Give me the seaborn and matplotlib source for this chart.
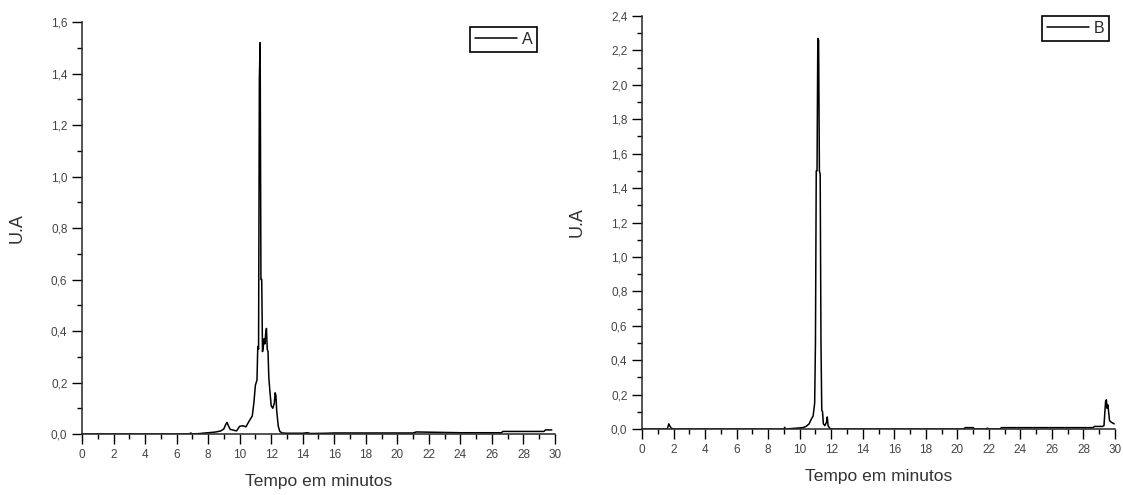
import pandas as pd
import seaborn as sns
import matplotlib
matplotlib.use('Agg')
import matplotlib.pyplot as plt
from matplotlib.ticker import MultipleLocator, FuncFormatter

# chromatogram A
tempo_a = [0, 6.8, 6.9, 7.0, 7.5, 7.8, 8.2, 8.5, 8.8, 9.0, 9.1, 9.2, 9.3, 9.4, 9.6, 9.8,
           10.0, 10.2, 10.4, 10.6, 10.8, 10.9, 11.0, 11.1, 11.15, 11.2, 11.25, 11.3, 11.35,
           11.4, 11.45, 11.5, 11.55, 11.6, 11.65, 11.7, 11.75, 11.8, 11.85, 11.9, 12.0,
           12.1, 12.2, 12.25, 12.3, 12.35, 12.45, 12.55, 12.7, 13.0, 14.0, 14.3, 14.5,
           15.5, 16.0, 18.0, 21.0, 21.2, 24.0, 26.6, 26.7, 29.3, 29.4, 29.8]
ua_a = [0, 0, 0.004, 0, 0.002, 0.004, 0.006, 0.008, 0.012, 0.02, 0.035, 0.045, 0.03,
        0.018, 0.015, 0.012, 0.03, 0.032, 0.028, 0.05, 0.07, 0.12, 0.19, 0.21, 0.34,
        0.33, 1.38, 1.52, 0.6, 0.6, 0.32, 0.34, 0.37, 0.35, 0.39, 0.41, 0.33, 0.32,
        0.22, 0.18, 0.11, 0.1, 0.12, 0.16, 0.15, 0.09, 0.03, 0.01, 0.004, 0.003,
        0.003, 0.005, 0.002, 0.003, 0.004, 0.004, 0.004, 0.008, 0.005, 0.005, 0.01,
        0.01, 0.016, 0.016]

# chromatogram B
tempo_b = [0, 1.6, 1.7, 1.75, 1.85, 2.0, 9.0, 9.05, 9.1, 9.8, 10.2, 10.4, 10.6, 10.75,
           10.85, 10.95, 11.0, 11.05, 11.1, 11.15, 11.2, 11.25, 11.3, 11.35, 11.4, 11.45,
           11.5, 11.6, 11.7, 11.75, 11.8, 11.9, 12.0, 20.4, 20.5, 21.0, 21.1, 21.8, 21.9,
           22.0, 22.7, 22.8, 28.6, 28.7, 29.2, 29.3, 29.4, 29.45, 29.5, 29.55, 29.65,
           29.75, 29.95]
ua_b = [0, 0, 0.03, 0.02, 0.005, 0, 0, 0.01, 0, 0.005, 0.008, 0.015, 0.03, 0.06,
        0.075, 0.15, 0.5, 1.5, 1.5, 2.27, 2.26, 1.5, 1.48, 0.5, 0.11, 0.1, 0.03, 0.02,
        0.04, 0.07, 0.02, 0.005, 0, 0, 0.008, 0.008, 0, 0, 0.005, 0, 0, 0.008, 0.008,
        0.015, 0.015, 0.02, 0.16, 0.17, 0.12, 0.14, 0.05, 0.04, 0.03]

df_a = pd.DataFrame({'tempo': tempo_a, 'ua': ua_a, 'serie': 'A'})
df_b = pd.DataFrame({'tempo': tempo_b, 'ua': ua_b, 'serie': 'B'})

sns.set_style('ticks')
plt.rcParams['font.family'] = ['Liberation Sans', 'DejaVu Sans']

fig = plt.figure(figsize=(11.23, 4.95), dpi=100)
ax1 = fig.add_axes([0.0730, 0.1232, 0.4212, 0.8323])
ax2 = fig.add_axes([0.5717, 0.1333, 0.4212, 0.8343])

virgula = FuncFormatter(lambda v, p: f'{v:.1f}'.replace('.', ','))
inteiro = FuncFormatter(lambda v, p: f'{v:.0f}')

for ax, df, ymax, leg_pos in [(ax1, df_a, 1.6, (0.962, 0.988)), (ax2, df_b, 2.4, (0.987, 1.0))]:
    sns.lineplot(data=df, x='tempo', y='ua', hue='serie', palette=['black'],
                 estimator=None, sort=False, linewidth=1.1, ax=ax)
    ax.set_xlim(0, 30)
    ax.set_ylim(0, ymax)
    ax.xaxis.set_major_locator(MultipleLocator(2))
    ax.xaxis.set_minor_locator(MultipleLocator(1))
    ax.yaxis.set_major_locator(MultipleLocator(0.2))
    ax.yaxis.set_minor_locator(MultipleLocator(0.1))
    ax.xaxis.set_major_formatter(inteiro)
    ax.yaxis.set_major_formatter(virgula)
    ax.tick_params(which='major', length=7, width=1.0, labelsize=8.5,
                   color='black', labelcolor='#444444')
    ax.tick_params(which='minor', length=3.5, width=1.0, color='black')
    sns.despine(ax=ax)
    ax.spines['left'].set_linewidth(1.1)
    ax.spines['bottom'].set_linewidth(1.1)
    ax.set_xlabel('Tempo em minutos', fontsize=12.5, color='#333333', labelpad=10)
    ax.set_ylabel('U.A', fontsize=13, color='#333333', labelpad=18)
    ax.legend(loc='upper right', bbox_to_anchor=leg_pos, frameon=True, fancybox=False,
              edgecolor='black', framealpha=1, fontsize=11.5, handlelength=2.6,
              handletextpad=0.3, borderpad=0.3, borderaxespad=0)
    ax.get_legend().get_frame().set_linewidth(1.2)

fig.savefig('out.png', dpi=100)
